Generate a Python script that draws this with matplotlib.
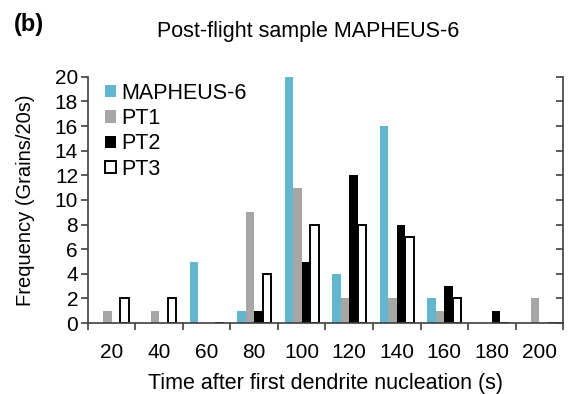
"""Post-flight grain nucleation histogram, MAPHEUS-6 vs. PT1-3."""
import matplotlib.pyplot as plt
import numpy as np

plt.rcParams['font.family'] = ['Liberation Sans', 'DejaVu Sans']

# Data
categories = ['20', '40', '60', '80', '100', '120', '140', '160', '180', '200']
mapheus_6 = [0, 0, 5, 1, 20, 4, 16, 2, 0, 0]
pt1 = [1, 1, 0, 9, 11, 2, 2, 1, 0, 2]
pt2 = [0, 0, 0, 1, 5, 12, 8, 3, 1, 0]
pt3 = [2, 2, 0, 4, 8, 8, 7, 2, 0, 0]

series = [('MAPHEUS-6', mapheus_6, '#62B6CF', '#62B6CF'),
          ('PT1', pt1, '#A6A6A6', '#A6A6A6'),
          ('PT2', pt2, 'black', 'black'),
          ('PT3', pt3, 'white', 'black')]

fig = plt.figure(figsize=(5.7, 3.94), dpi=100)
ax = fig.add_axes([0.154, 0.180, 0.834, 0.625])

x = np.arange(len(categories))
bar_width = 0.18
offsets = [-0.27, -0.09, 0.09, 0.27]

for (name, values, face, edge), off in zip(series, offsets):
    lw = 1.4 if face == 'white' else 0
    ax.bar(x + off, values, bar_width, color=face, edgecolor=edge,
           linewidth=lw, label=name)

ax.set_xlim(-0.5, len(categories) - 0.5)
ax.set_ylim(0, 20)
ax.set_yticks(range(0, 21, 2))

# Tick marks between the groups, labels under the group centres
ax.set_xticks(np.arange(-0.5, len(categories), 1.0))
ax.set_xticklabels([])
ax.set_xticks(x, minor=True)
ax.set_xticklabels(categories, minor=True)
ax.tick_params(axis='x', which='major', direction='out', length=5,
               width=1.2, color='#404040')
ax.tick_params(axis='x', which='minor', length=0, pad=14, labelsize=15)
ax.tick_params(axis='y', direction='out', length=5, width=1.2,
               color='#404040', labelsize=15, pad=2)

for side in ['top', 'right']:
    ax.spines[side].set_visible(False)
for side in ['left', 'bottom']:
    ax.spines[side].set_linewidth(1.2)
    ax.spines[side].set_color('#404040')

# Right axis: ticks only, pointing inwards
ax2 = ax.twinx()
ax2.set_ylim(0, 20)
ax2.set_yticks(range(0, 21, 2))
ax2.set_yticklabels([])
ax2.tick_params(axis='y', direction='in', length=5, width=1.2,
                color='#404040')
for side in ['top', 'left', 'bottom']:
    ax2.spines[side].set_visible(False)
ax2.spines['right'].set_linewidth(1.2)
ax2.spines['right'].set_color('#404040')

ax.set_xlabel('Time after first dendrite nucleation (s)', fontsize=15.5,
              labelpad=8)
ax.set_ylabel('Frequency (Grains/20s)', fontsize=14.5, labelpad=14)

ax.legend(loc='upper left', bbox_to_anchor=(0.018, 1.011), frameon=False,
          fontsize=15.5, handlelength=0.5, handleheight=0.5,
          handletextpad=0.25, labelspacing=0.2, borderaxespad=0)

fig.text(0.541, 0.905, 'Post-flight sample MAPHEUS-6', ha='center',
         va='baseline', fontsize=15.5)
fig.text(0.024, 0.937, '(b)', ha='left', va='center', fontsize=17,
         fontweight='bold')

fig.savefig('out.png', dpi=100)
